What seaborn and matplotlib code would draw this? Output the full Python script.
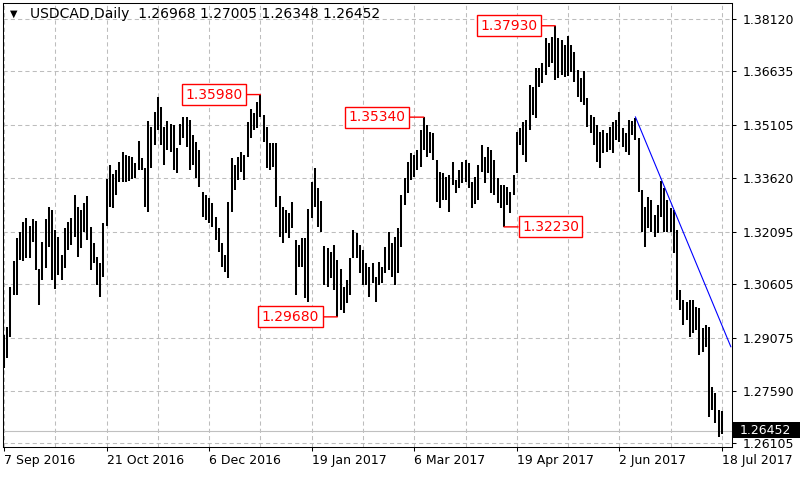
import numpy as np
import pandas as pd
import matplotlib
matplotlib.use("Agg")
import matplotlib.pyplot as plt
import seaborn as sns
from matplotlib.patches import Rectangle

sns.set_style("white")
plt.rcParams['font.family'] = ['DejaVu Sans']

# daily bars USDCAD, 7 Sep 2016 .. 18 Jul 2017
dates = pd.bdate_range("2016-09-07", "2017-07-18")

highs = [
    1.2917, 1.2939, 1.3053, 1.3126, 1.3192, 1.3209, 1.3237, 1.3248, 1.3226, 1.3245,
    1.3240, 1.3104, 1.3180, 1.3245, 1.3279, 1.3271, 1.3214, 1.3194, 1.3143, 1.3220,
    1.3237, 1.3248, 1.3313, 1.3279, 1.3271, 1.3291, 1.3311, 1.3223, 1.3177, 1.3138,
    1.3121, 1.3234, 1.3359, 1.3398, 1.3373, 1.3384, 1.3407, 1.3435, 1.3427, 1.3424,
    1.3421, 1.3404, 1.3466, 1.3418, 1.3390, 1.3523, 1.3506, 1.3549, 1.3591, 1.3563,
    1.3506, 1.3523, 1.3514, 1.3512, 1.3447, 1.3514, 1.3535, 1.3535, 1.3526, 1.3483,
    1.3463, 1.3441, 1.3322, 1.3313, 1.3305, 1.3291, 1.3251, 1.3220, 1.3177, 1.3143,
    1.3294, 1.3418, 1.3398, 1.3421, 1.3435, 1.3427, 1.3520, 1.3557, 1.3546, 1.3577,
    1.3598, 1.3540, 1.3506, 1.3461, 1.3461, 1.3461, 1.3311, 1.3279, 1.3271, 1.3262,
    1.3294, 1.3186, 1.3172, 1.3192, 1.3192, 1.3274, 1.3350, 1.3390, 1.3333, 1.3296,
    1.3169, 1.3163, 1.3152, 1.3172, 1.3129, 1.3104, 1.3053, 1.3073, 1.3135, 1.3214,
    1.3206, 1.3172, 1.3158, 1.3121, 1.3109, 1.3121, 1.3081, 1.3123, 1.3109, 1.3166,
    1.3209, 1.3177, 1.3194, 1.3220, 1.3313, 1.3362, 1.3407, 1.3432, 1.3427, 1.3441,
    1.3498, 1.3534, 1.3512, 1.3492, 1.3489, 1.3413, 1.3378, 1.3376, 1.3364, 1.3370,
    1.3407, 1.3356, 1.3384, 1.3407, 1.3413, 1.3404, 1.3350, 1.3364, 1.3398, 1.3455,
    1.3421, 1.3449, 1.3441, 1.3413, 1.3362, 1.3342, 1.3342, 1.3336, 1.3322, 1.3370,
    1.3492, 1.3503, 1.3520, 1.3526, 1.3625, 1.3619, 1.3673, 1.3673, 1.3687, 1.3758,
    1.3744, 1.3761, 1.3793, 1.3758, 1.3753, 1.3738, 1.3764, 1.3738, 1.3719, 1.3668,
    1.3645, 1.3665, 1.3588, 1.3540, 1.3535, 1.3512, 1.3492, 1.3498, 1.3489, 1.3506,
    1.3520, 1.3526, 1.3549, 1.3503, 1.3489, 1.3526, 1.3523, 1.3532, 1.3475, 1.3327,
    1.3279, 1.3308, 1.3299, 1.3256, 1.3285, 1.3353, 1.3333, 1.3299, 1.3277, 1.3271,
    1.3214, 1.3044, 1.3016, 1.3010, 1.3016, 1.3016, 1.2996, 1.2993, 1.2936, 1.2945,
    1.2939, 1.2769, 1.2752, 1.2704, 1.27005,
]
lows = [
    1.2823, 1.2851, 1.2911, 1.3030, 1.3030, 1.3129, 1.3126, 1.3135, 1.3135, 1.3180,
    1.3101, 1.3002, 1.3073, 1.3107, 1.3166, 1.3073, 1.3047, 1.3087, 1.3073, 1.3107,
    1.3158, 1.3172, 1.3194, 1.3138, 1.3163, 1.3209, 1.3186, 1.3101, 1.3121, 1.3058,
    1.3024, 1.3081, 1.3226, 1.3279, 1.3277, 1.3313, 1.3350, 1.3350, 1.3350, 1.3353,
    1.3359, 1.3362, 1.3384, 1.3384, 1.3279, 1.3265, 1.3390, 1.3455, 1.3498, 1.3455,
    1.3398, 1.3441, 1.3435, 1.3384, 1.3376, 1.3455, 1.3475, 1.3449, 1.3384, 1.3398,
    1.3362, 1.3336, 1.3251, 1.3243, 1.3234, 1.3223, 1.3186, 1.3152, 1.3109, 1.3095,
    1.3078, 1.3265, 1.3328, 1.3356, 1.3378, 1.3356, 1.3421, 1.3475, 1.3498, 1.3503,
    1.3535, 1.3463, 1.3390, 1.3384, 1.3393, 1.3279, 1.3194, 1.3177, 1.3206, 1.3192,
    1.3220, 1.3030, 1.3109, 1.3109, 1.3021, 1.3010, 1.3248, 1.3279, 1.3223, 1.3209,
    1.3058, 1.3053, 1.3078, 1.3044, 1.2968, 1.2987, 1.2979, 1.3007, 1.3030, 1.3135,
    1.3135, 1.3092, 1.3058, 1.3058, 1.3024, 1.3064, 1.3010, 1.3058, 1.3064, 1.3092,
    1.3101, 1.3081, 1.3058, 1.3092, 1.3166, 1.3285, 1.3319, 1.3356, 1.3364, 1.3384,
    1.3393, 1.3441, 1.3421, 1.3432, 1.3413, 1.3294, 1.3277, 1.3299, 1.3299, 1.3265,
    1.3342, 1.3319, 1.3333, 1.3347, 1.3350, 1.3333, 1.3277, 1.3288, 1.3299, 1.3378,
    1.3347, 1.3376, 1.3319, 1.3313, 1.3291, 1.3277, 1.3223, 1.3285, 1.3262, 1.3313,
    1.3376, 1.3455, 1.3427, 1.3407, 1.3498, 1.3540, 1.3532, 1.3619, 1.3631, 1.3653,
    1.3676, 1.3687, 1.3639, 1.3645, 1.3653, 1.3648, 1.3650, 1.3662, 1.3634, 1.3591,
    1.3577, 1.3568, 1.3506, 1.3489, 1.3455, 1.3407, 1.3390, 1.3432, 1.3435, 1.3441,
    1.3432, 1.3469, 1.3463, 1.3449, 1.3435, 1.3427, 1.3483, 1.3469, 1.3322, 1.3209,
    1.3166, 1.3220, 1.3209, 1.3194, 1.3206, 1.3251, 1.3209, 1.3209, 1.3209, 1.3149,
    1.3016, 1.2987, 1.2945, 1.2959, 1.2911, 1.2922, 1.2931, 1.2860, 1.2868, 1.2882,
    1.2684, 1.2704, 1.2667, 1.2627, 1.26348,
]

last_ohlc = [1.26968, 1.27005, 1.26348, 1.26452]

x_labels = ["7 Sep 2016", "21 Oct 2016", "6 Dec 2016", "19 Jan 2017",
            "6 Mar 2017", "19 Apr 2017", "2 Jun 2017", "18 Jul 2017"]
y_ticks = [1.26105, 1.27590, 1.29075, 1.30605, 1.32095, 1.33620, 1.35105, 1.36635, 1.38120]

# swing labels: date, price, side of the box
ann_dates = ["2016-12-28", "2017-01-31", "2017-03-09", "2017-04-13", "2017-05-05"]
ann_vals = [1.35980, 1.29680, 1.35340, 1.32230, 1.37930]
ann_side = ["left", "left", "left", "right", "left"]

# trend line (bar index, price)
trend_x = [197, 226.8]
trend_y = [1.3535, 1.2883]

# %%
fig = plt.figure(figsize=(8, 4.8), dpi=100)
ax = fig.add_axes([3/800, 33/480, 729/800, 444/480])

n = len(highs)
df = pd.DataFrame({
    "bar": np.repeat(np.arange(n), 2),
    "price": np.column_stack([highs, lows]).ravel(),
})
sns.lineplot(data=df, x="bar", y="price", units="bar", estimator=None, sort=False,
             color="black", lw=1.45, solid_capstyle="butt", ax=ax, legend=False)

sns.lineplot(x=trend_x, y=trend_y, color="#0000ff", lw=0.8, ax=ax)

# current price line
ax.axhline(last_ohlc[3], color="#c0c0c0", lw=0.8, zorder=1)

ax.set_xlim(-0.31, 227.15)
ax.set_ylim(1.25992, 1.38575)
ax.set_xlabel("")
ax.set_ylabel("")

xpos = [dates.get_loc(pd.Timestamp(d)) for d in pd.to_datetime(x_labels, format="%d %b %Y")]
ax.set_xticks(xpos, x_labels, ha="left")
ax.set_xticks(np.arange(16, n, 32), minor=True)
ax.set_yticks(y_ticks, [f"{v:.5f}" for v in y_ticks])
ax.yaxis.tick_right()

ax.grid(True, which="both", color="#bdbdbd", linestyle=(0, (4, 3)), lw=0.75)
ax.set_axisbelow(True)
ax.tick_params(axis="x", which="major", bottom=True, direction="out", length=3,
               width=0.75, pad=2, labelsize=9, colors="black")
ax.tick_params(axis="x", which="minor", length=0)
ax.tick_params(axis="y", right=True, left=False, labelright=True, labelleft=False,
               direction="out", length=3, width=0.75, pad=5, labelsize=9, colors="black")
for s in ax.spines.values():
    s.set_color("black")
    s.set_linewidth(0.75)

for d, v, side in zip(ann_dates, ann_vals, ann_side):
    i = dates.get_loc(pd.Timestamp(d))
    off = -13 if side == "left" else 13
    ax.annotate(f"{v:.5f}", xy=(i, v), xytext=(off, 0), textcoords="offset points",
                ha="right" if side == "left" else "left", va="center",
                color="red", fontsize=10,
                bbox=dict(boxstyle="square,pad=0.25", fc="white", ec="red", lw=1),
                arrowprops=dict(arrowstyle="-", color="red", lw=1, shrinkA=0, shrinkB=0))

# header
fig.text(10/800, 1 - 14/480, "\u25bc", fontsize=7, va="center", color="black")
fig.text(30/800, 1 - 14/480,
         "USDCAD,Daily  " + " ".join(f"{v:.5f}" for v in last_ohlc),
         fontsize=10, va="center", color="black")

# current price tag on the price scale
fig.add_artist(Rectangle((733/800, (480 - 438)/480), 67/800, 16/480,
                         transform=fig.transFigure, fc="black", ec="none", zorder=5))
fig.text(740/800, 1 - 430.5/480, f"{last_ohlc[3]:.5f}", color="white",
         fontsize=9, va="center", zorder=6)

fig.savefig("out.png", dpi=100)
